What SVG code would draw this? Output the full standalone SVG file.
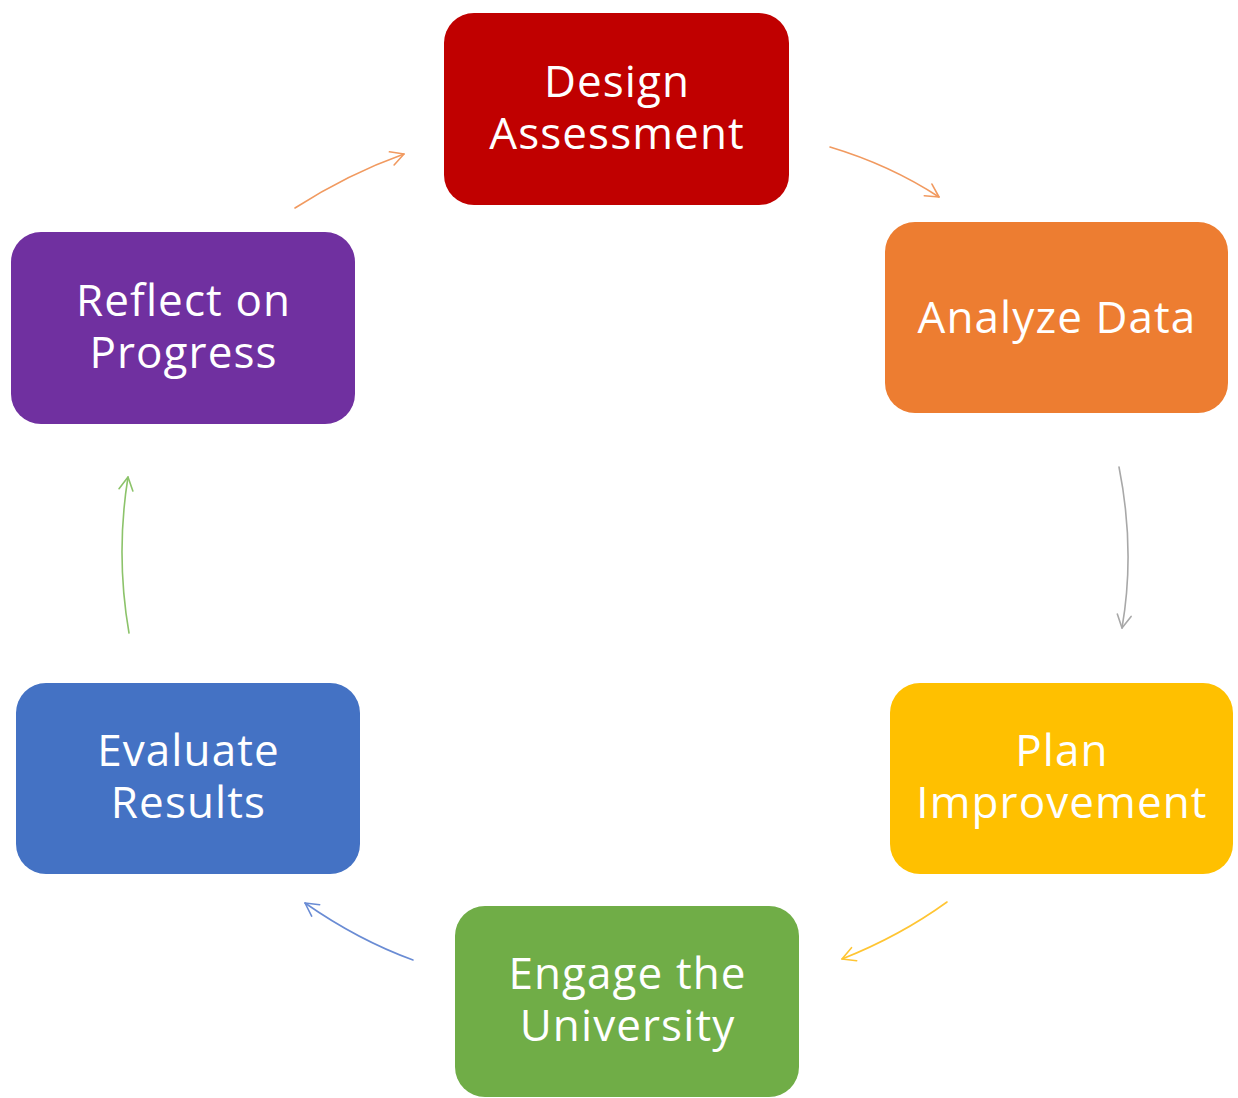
<svg xmlns="http://www.w3.org/2000/svg" width="1238" height="1098" viewBox="0 0 1238 1098">
<style>
.box{stroke:none}
.lbl{font-family:"Open Sans","Noto Sans","Liberation Sans",sans-serif;font-size:44px;letter-spacing:1.1px;fill:#ffffff;text-anchor:middle}
.conn{fill:none;stroke-width:1.6;stroke-linecap:round}
</style>
<defs>
<marker id="aOr" markerUnits="userSpaceOnUse" markerWidth="30" markerHeight="30" refX="0" refY="0" viewBox="-15 -15 30 30" orient="auto"><path d="M-13,-7 L0,0 L-13,7" fill="none" stroke="#F19A60" stroke-width="1.6" stroke-linecap="round" stroke-linejoin="round"/></marker>
<marker id="aGy" markerUnits="userSpaceOnUse" markerWidth="30" markerHeight="30" refX="0" refY="0" viewBox="-15 -15 30 30" orient="auto"><path d="M-13,-7 L0,0 L-13,7" fill="none" stroke="#A8A8A8" stroke-width="1.6" stroke-linecap="round" stroke-linejoin="round"/></marker>
<marker id="aYe" markerUnits="userSpaceOnUse" markerWidth="30" markerHeight="30" refX="0" refY="0" viewBox="-15 -15 30 30" orient="auto"><path d="M-13,-7 L0,0 L-13,7" fill="none" stroke="#FFC533" stroke-width="1.6" stroke-linecap="round" stroke-linejoin="round"/></marker>
<marker id="aBl" markerUnits="userSpaceOnUse" markerWidth="30" markerHeight="30" refX="0" refY="0" viewBox="-15 -15 30 30" orient="auto"><path d="M-13,-7 L0,0 L-13,7" fill="none" stroke="#6A8CD4" stroke-width="1.6" stroke-linecap="round" stroke-linejoin="round"/></marker>
<marker id="aGr" markerUnits="userSpaceOnUse" markerWidth="30" markerHeight="30" refX="0" refY="0" viewBox="-15 -15 30 30" orient="auto"><path d="M-13,-7 L0,0 L-13,7" fill="none" stroke="#8CC36A" stroke-width="1.6" stroke-linecap="round" stroke-linejoin="round"/></marker>
</defs>
<rect width="1238" height="1098" fill="#ffffff"/>
<g id="connectors">
<path class="conn" d="M295,208 Q348,174 404,154" stroke="#F19A60" marker-end="url(#aOr)"/>
<path class="conn" d="M830,147 Q890,165 939,197" stroke="#F19A60" marker-end="url(#aOr)"/>
<path class="conn" d="M1119,467 Q1135.5,550 1122,628" stroke="#A8A8A8" marker-end="url(#aGy)"/>
<path class="conn" d="M947,902 Q900,936 842,959" stroke="#FFC533" marker-end="url(#aYe)"/>
<path class="conn" d="M413,960 Q358,940 305,903" stroke="#6A8CD4" marker-end="url(#aBl)"/>
<path class="conn" d="M129,633 Q115.5,555 128,477" stroke="#8CC36A" marker-end="url(#aGr)"/>
</g>
<g id="design">
<rect class="box" x="444" y="13" width="345" height="192" rx="30" fill="#C00000"/>
<text class="lbl"><tspan x="617" y="97">Design</tspan><tspan x="617" y="149">Assessment</tspan></text>
</g>
<g id="analyze">
<rect class="box" x="885" y="222" width="343" height="191" rx="30" fill="#ED7D31"/>
<text class="lbl" x="1057" y="333">Analyze Data</text>
</g>
<g id="plan">
<rect class="box" x="890" y="683" width="343" height="191" rx="30" fill="#FFC000"/>
<text class="lbl"><tspan x="1062" y="766">Plan</tspan><tspan x="1062" y="818">Improvement</tspan></text>
</g>
<g id="engage">
<rect class="box" x="455" y="906" width="344" height="191" rx="30" fill="#70AD47"/>
<text class="lbl"><tspan x="627.5" y="989">Engage the</tspan><tspan x="627.5" y="1041">University</tspan></text>
</g>
<g id="evaluate">
<rect class="box" x="16" y="683" width="344" height="191" rx="30" fill="#4472C4"/>
<text class="lbl"><tspan x="188.5" y="766">Evaluate</tspan><tspan x="188.5" y="818">Results</tspan></text>
</g>
<g id="reflect">
<rect class="box" x="11" y="232" width="344" height="192" rx="30" fill="#7030A0"/>
<text class="lbl"><tspan x="183.5" y="316">Reflect on</tspan><tspan x="183.5" y="368">Progress</tspan></text>
</g>
</svg>
